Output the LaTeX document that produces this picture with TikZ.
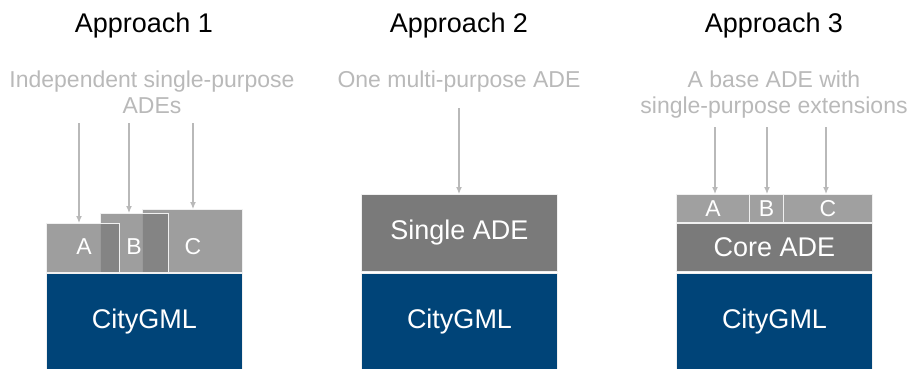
\documentclass[tikz,border=0pt]{standalone}
\usepackage{fontspec}
\setmainfont{Liberation Sans}
\usetikzlibrary{arrows.meta,positioning}

\definecolor{gmlblue}{RGB}{0,68,120}
\definecolor{adegray}{RGB}{122,122,122}
\definecolor{extgray}{RGB}{160,160,160}
\definecolor{notegray}{RGB}{185,185,185}

\tikzset{
  title/.style={anchor=base, inner sep=0pt, font=\fontsize{27}{30}\selectfont},
  note/.style={anchor=base, inner sep=0pt, align=center, text=notegray,
               font=\fontsize{23}{25}\selectfont},
  layer/.style={anchor=north west, inner sep=0pt, draw=white!88!gray,
                line width=1pt, text=white, font=\fontsize{27}{30}\selectfont},
  citygml/.style={layer, fill=gmlblue, minimum width=196pt, minimum height=96pt},
  adebox/.style={layer, fill=adegray},
  extbox/.style={layer, fill=extgray, font=\fontsize{23}{25}\selectfont},
  freebox/.style={layer, fill=gray!95!black, fill opacity=0.72},
  tag/.style={inner sep=0pt, text=white, font=\fontsize{23}{25}\selectfont},
  feed/.style={draw=notegray, line width=1.2pt, -{Latex[length=7pt,width=6pt]}}
}

\begin{document}
\begin{tikzpicture}[x=1pt,y=-1pt]
    \useasboundingbox (0,0) rectangle (910,369);
    \pgfmathsetmacro{\sw}{196}   % width of a stack
    \pgfmathsetmacro{\xa}{46}    % left edge, approach 1
    \pgfmathsetmacro{\xb}{361}   % left edge, approach 2
    \pgfmathsetmacro{\xc}{676}   % left edge, approach 3

    % Headings
    \node[title] (head1) at (\xa+0.5*\sw,33) {Approach 1};
    \node[title] (head2) at (\xb+0.5*\sw,33) {Approach 2};
    \node[title] (head3) at (\xc+0.5*\sw,33) {Approach 3};

    % Descriptions (base is the last line)
    \node[note] (desc1) at (152,113) {Independent single-purpose\\ADEs};
    \node[note] (desc2) at (459,88) {One multi-purpose ADE};
    \node[note] (desc3) at (\xc+0.5*\sw,113) {A base ADE with\\single-purpose extensions};

    % CityGML at the bottom of every stack
    \node[citygml] (gml1) at (\xa,273) {CityGML};
    \node[citygml] (gml2) at (\xb,273) {CityGML};
    \node[citygml] (gml3) at (\xc,273) {CityGML};

    % Approach 1: overlapping ADEs, C first so that A lies on top
    \node[freebox, minimum width=100pt, minimum height=63pt] (adeC) at (142,209) {};
    \node[freebox, minimum width=68pt, minimum height=59pt] (adeB) at (100,213) {};
    \node[freebox, minimum width=73pt, minimum height=49pt] (adeA) at (46,223) {};
    \node[tag] (tagA) at (84,247) {A};
    \node[tag] (tagB) at (134,247) {B};
    \node[tag] (tagC) at (193,247) {C};

    % Approach 2: one ADE
    \node[adebox, minimum width=\sw pt, minimum height=77pt] (single) at (\xb,194) {Single ADE};

    % Approach 3: core ADE with extensions
    \node[adebox, minimum width=\sw pt, minimum height=48pt] (core) at (\xc,223) {Core ADE};
    \node[extbox, minimum width=73pt, minimum height=28pt] (extA) at (\xc,194) {A};
    \node[extbox, minimum width=34pt, minimum height=28pt] (extB) at (749,194) {B};
    \node[extbox, minimum width=89pt, minimum height=28pt] (extC) at (783,194) {C};

    % Free ends of the arrows
    \coordinate (in1a) at (79,123);
    \coordinate (in1b) at (129,123);
    \coordinate (in1c) at (193,123);
    \coordinate (in2) at (459,108);
    \coordinate (in3a) at (715,127);
    \coordinate (in3b) at (767,127);
    \coordinate (in3c) at (826,127);

    % Arrows down onto the ADEs
    \draw[feed] (in1a) -- (in1a |- adeA.north);
    \draw[feed] (in1b) -- (in1b |- adeB.north);
    \draw[feed] (in1c) -- (in1c |- adeC.north);
    \draw[feed] (in2) -- (in2 |- single.north);
    \draw[feed] (in3a) -- (in3a |- extA.north);
    \draw[feed] (in3b) -- (in3b |- extB.north);
    \draw[feed] (in3c) -- (in3c |- extC.north);
\end{tikzpicture}
\end{document}
